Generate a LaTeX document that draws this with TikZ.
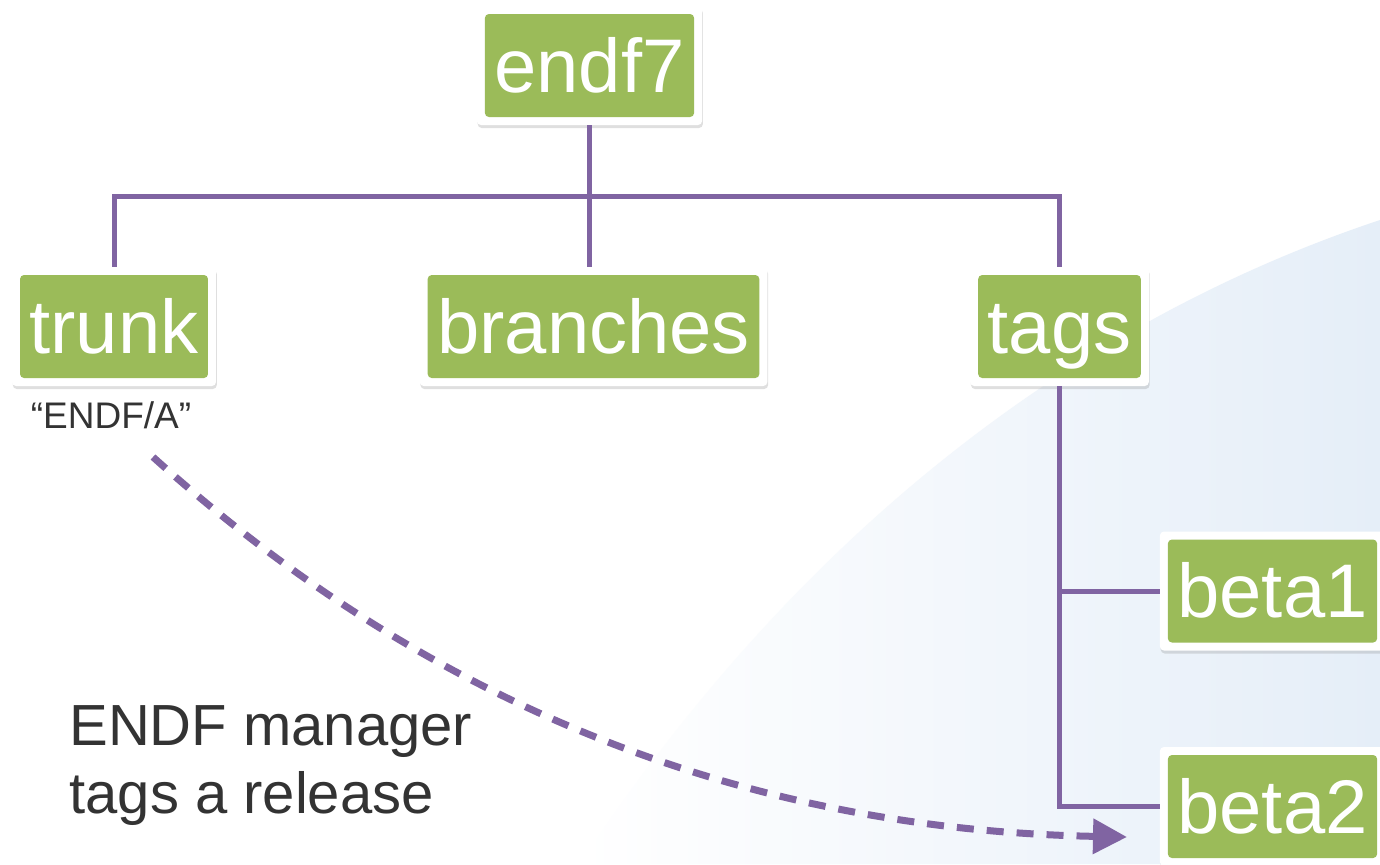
\documentclass[tikz,border=0pt]{standalone}
\usepackage{fontspec}
\setmainfont{Liberation Sans}
\usetikzlibrary{arrows.meta,shadows}
\definecolor{boxgreen}{RGB}{155,187,89}
\definecolor{linepurple}{RGB}{128,100,162}
\definecolor{txtgrey}{RGB}{51,51,51}
\definecolor{bgblue}{RGB}{229,238,248}
\tikzset{
  dirbox/.style={fill=white, rounded corners=2pt, text=white, minimum height=59.5pt,
    inner xsep=8.75pt, text height=26.5pt, text depth=0pt, font=\fontsize{38}{40}\selectfont,
    drop shadow={opacity=0.25, shadow xshift=0.4pt, shadow yshift=-1.5pt},
    path picture={\fill[boxgreen] ([shift={(4pt,4pt)}]path picture bounding box.south west)
      rectangle ([shift={(-4pt,-4pt)}]path picture bounding box.north east);}},
  tree/.style={draw=linepurple, line width=2.5pt},
  flow/.style={draw=linepurple, line width=3.5pt, dash pattern=on 8.5pt off 6.5pt,
    -{Triangle[length=17pt,width=17pt]}}
}
\begin{document}
\begin{tikzpicture}[x=0.5pt,y=-0.5pt]
\fill[white] (0,0) rectangle (1380,864);
\useasboundingbox (0,0) rectangle (1380,864);
\shade[left color=white, right color=bgblue] (580,864) .. controls (780,560) and (1050,330) .. (1380,220) -- (1380,864) -- cycle;
\node[dirbox] (endf7) at (589.5,65.5) {endf7};
\node[dirbox] (trunk) at (114,326.5) {trunk};
\node[dirbox] (branches) at (593.5,326.5) {branches};
\node[dirbox] (tags) at (1059.5,326.5) {tags};
\node[dirbox] (beta1) at (1272.5,591) {beta1};
\node[dirbox] (beta2) at (1272.5,806.5) {beta2};
\node[anchor=base, text=txtgrey, font=\fontsize{18.5}{20}\selectfont, inner sep=0pt] (trunklbl) at (111,428) {“ENDF/A”};
\node[anchor=base west, align=left, text=txtgrey, font=\fontsize{29}{34}\selectfont, inner sep=0pt] (mgr) at (69,813) {ENDF manager\\tags a release};
\coordinate (split) at (589.5,196);
\draw[tree] (endf7.south) -- (endf7.south |- branches.north);
\draw[tree] (trunk.north) |- (split) -| (tags.north);
\draw[tree] (tags.south) |- (beta2.west);
\draw[tree] (tags.south |- beta1.west) -- (beta1.west);
\coordinate (relstart) at (153,457);
\coordinate (relend) at (1127,837);
\draw[flow] (relstart) .. controls (453,727) and (777,830) .. (relend);
\end{tikzpicture}
\end{document}
